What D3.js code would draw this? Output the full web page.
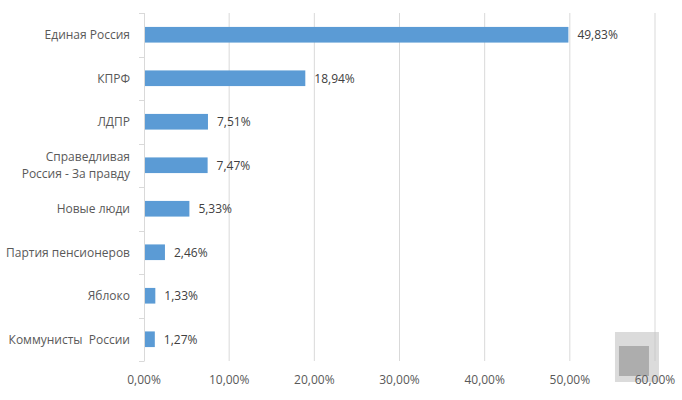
<!DOCTYPE html>
<html>
<head>
<meta charset="utf-8">
<script src="https://cdn.jsdelivr.net/npm/d3@7"></script>
<style>
  body { margin: 0; background: #fff; }
  text { font-family: "Open Sans", "Liberation Sans", sans-serif; fill: #595959; white-space: pre; }
</style>
</head>
<body>
<div id="vis"></div>
<script>
// data
const parties = ['Единая Россия', 'КПРФ', 'ЛДПР', 'Справедливая\nРоссия - За правду', 'Новые люди',
  'Партия пенсионеров', 'Яблоко', 'Коммунисты  России']
const shares = [49.83, 18.94, 7.51, 7.47, 5.33, 2.46, 1.33, 1.27]
const xTicks = [0, 10, 20, 30, 40, 50, 60]

const W = 682, H = 400
const margin = { top: 13, right: 27, bottom: 39, left: 144 }
const width = W - margin.left - margin.right
const height = H - margin.top - margin.bottom

const svg = d3.select('#vis')
    .append('svg')
    .attr('width', W)
    .attr('height', H)
    .append('g')
    .attr('transform', `translate(${margin.left},${margin.top})`)

const x = d3.scaleLinear().domain([0, 60]).range([0, width])
const y = d3.scaleBand().domain(parties).range([0, height]).paddingInner(0.64).paddingOuter(0.32)

const fmt = v => d3.format('.2f')(v).replace('.', ',') + '%'

// gridlines
svg.selectAll('.grid')
    .data(xTicks.slice(1))
    .join('line')
    .attr('x1', d => x(d)).attr('x2', d => x(d))
    .attr('y1', 0).attr('y2', height)
    .attr('stroke', '#d9d9d9').attr('stroke-width', 1)

// watermark (grey square behind the last tick)
const wm = svg.append('g').attr('transform', `translate(${x(55.3)},${height - 29})`).style('opacity', 0.6)
wm.append('rect').attr('width', 44).attr('height', 50).attr('fill', '#c4c4c4')
wm.append('rect').attr('x', 4).attr('y', 14).attr('width', 30).attr('height', 30).attr('fill', '#777')

// x tick labels
svg.selectAll('.xlab')
    .data(xTicks)
    .join('text')
    .attr('x', d => x(d))
    .attr('y', height + 23)
    .attr('text-anchor', 'middle')
    .style('font-size', '12px')
    .text(d => fmt(d))

// y axis line + boundary ticks
svg.append('line')
    .attr('x1', 0.5).attr('x2', 0.5).attr('y1', 0).attr('y2', height)
    .attr('stroke', '#d9d9d9')
const bounds = d3.range(parties.length + 1).map(i => i * height / parties.length)
svg.selectAll('.ytick')
    .data(bounds)
    .join('line')
    .attr('x1', -5).attr('x2', 0.5)
    .attr('y1', d => Math.round(d) + 0.5).attr('y2', d => Math.round(d) + 0.5)
    .attr('stroke', '#d9d9d9')

// bars
svg.selectAll('.bar')
    .data(parties)
    .join('rect')
    .attr('x', 1)
    .attr('y', d => y(d))
    .attr('width', (d, i) => x(shares[i]) - 1)
    .attr('height', y.bandwidth())
    .attr('fill', '#5b9bd5')

// value labels
svg.selectAll('.val')
    .data(parties)
    .join('text')
    .attr('x', (d, i) => x(shares[i]) + 9)
    .attr('y', d => y(d) + y.bandwidth() / 2 + 4.5)
    .style('font-size', '12px')
    .style('fill', '#404040')
    .text((d, i) => fmt(shares[i]))

// category labels
svg.selectAll('.cat')
    .data(parties)
    .join('text')
    .attr('text-anchor', 'end')
    .style('font-size', '12px')
    .each(function (d) {
        const lines = d.split('\n')
        const cy = y(d) + y.bandwidth() / 2 + 4.5
        lines.forEach((l, k) => {
            d3.select(this).append('tspan')
                .attr('x', -14)
                .attr('y', cy + (k - (lines.length - 1) / 2) * 17)
                .text(l)
        })
    })
</script>
</body>
</html>
